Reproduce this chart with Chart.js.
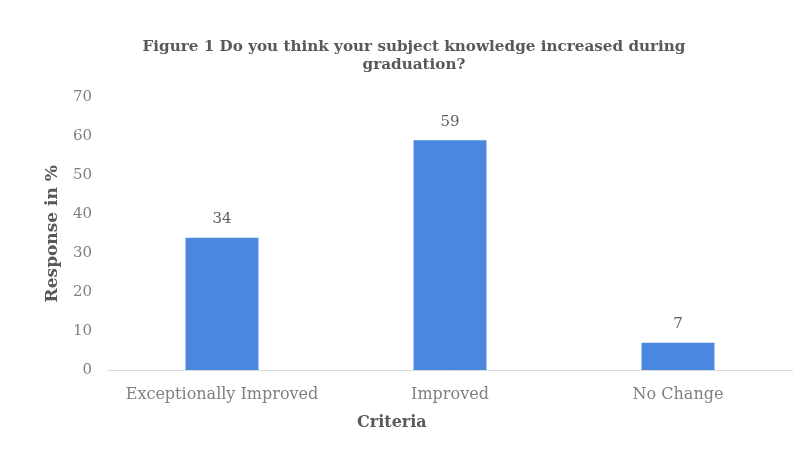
<!DOCTYPE html>
<html>
<head>
<meta charset="utf-8">
<script src="https://cdn.jsdelivr.net/npm/chart.js@4/dist/chart.umd.min.js"></script>
<style>
html,body{margin:0;padding:0;background:#fff;}
#wrap{width:807px;height:455px;position:relative;}
</style>
</head>
<body>
<div id="wrap"><canvas id="c" width="807" height="455"></canvas></div>
<script>
const categories = ["Exceptionally Improved", "Improved", "No Change"];
const responses = [34, 59, 7];
const yTicks = [0, 10, 20, 30, 40, 50, 60, 70];
const xAxisTitle = "Criteria";

const FONT = '"DejaVu Serif", "Liberation Serif", serif';

const valueLabels = {
  id: 'valueLabels',
  afterDatasetsDraw(chart) {
    const ctx = chart.ctx;
    ctx.save();
    ctx.font = '15px ' + FONT;
    ctx.fillStyle = '#606060';
    ctx.textAlign = 'center';
    ctx.textBaseline = 'bottom';
    chart.getDatasetMeta(0).data.forEach((bar, i) => {
      ctx.fillText(String(chart.data.datasets[0].data[i]), bar.x, bar.y - 11);
    });
    // x-axis title, placed left of centre as in the original figure
    const ca = chart.chartArea;
    ctx.font = 'bold 16px ' + FONT;
    ctx.fillStyle = '#595959';
    ctx.textBaseline = 'middle';
    ctx.fillText(xAxisTitle, ca.left + (ca.right - ca.left) * 0.415, ca.bottom + 53);
    ctx.restore();
  }
};

new Chart(document.getElementById('c'), {
  type: 'bar',
  data: {
    labels: categories,
    datasets: [{
      data: responses,
      backgroundColor: '#4a88e0',
      categoryPercentage: 1,
      barPercentage: 0.32
    }]
  },
  options: {
    responsive: false,
    animation: false,
    layout: { padding: { left: 36, right: 15, top: 0, bottom: 15 } },
    plugins: {
      legend: { display: false },
      tooltip: { enabled: false },
      title: {
        display: true,
        text: ['Figure 1 Do you think your subject knowledge increased during', 'graduation?'],
        color: '#595959',
        font: { family: FONT, size: 15.2, weight: 'bold', lineHeight: 1.2 },
        padding: { top: 38, bottom: 23 }
      }
    },
    scales: {
      x: {
        grid: { display: false, drawTicks: false },
        border: { display: true, color: '#d9d9d9', width: 1 },
        ticks: { color: '#808080', font: { family: FONT, size: 16 }, padding: 15 },
        afterFit(scale) { scale.height = 70; }
      },
      y: {
        min: 0, max: 70,
        afterBuildTicks(scale) { scale.ticks = yTicks.map(v => ({ value: v })); },
        grid: { display: false, drawTicks: false },
        border: { display: false },
        ticks: { color: '#808080', font: { family: FONT, size: 15 }, padding: 16 },
        title: {
          display: true, text: 'Response in %', color: '#595959',
          font: { family: FONT, size: 17, weight: 'bold', lineHeight: 1.2 },
          padding: { top: 6, bottom: 0 }
        },
        afterFit(scale) { scale.width = 108 - 36; }
      }
    }
  },
  plugins: [valueLabels]
});
</script>
</body>
</html>
